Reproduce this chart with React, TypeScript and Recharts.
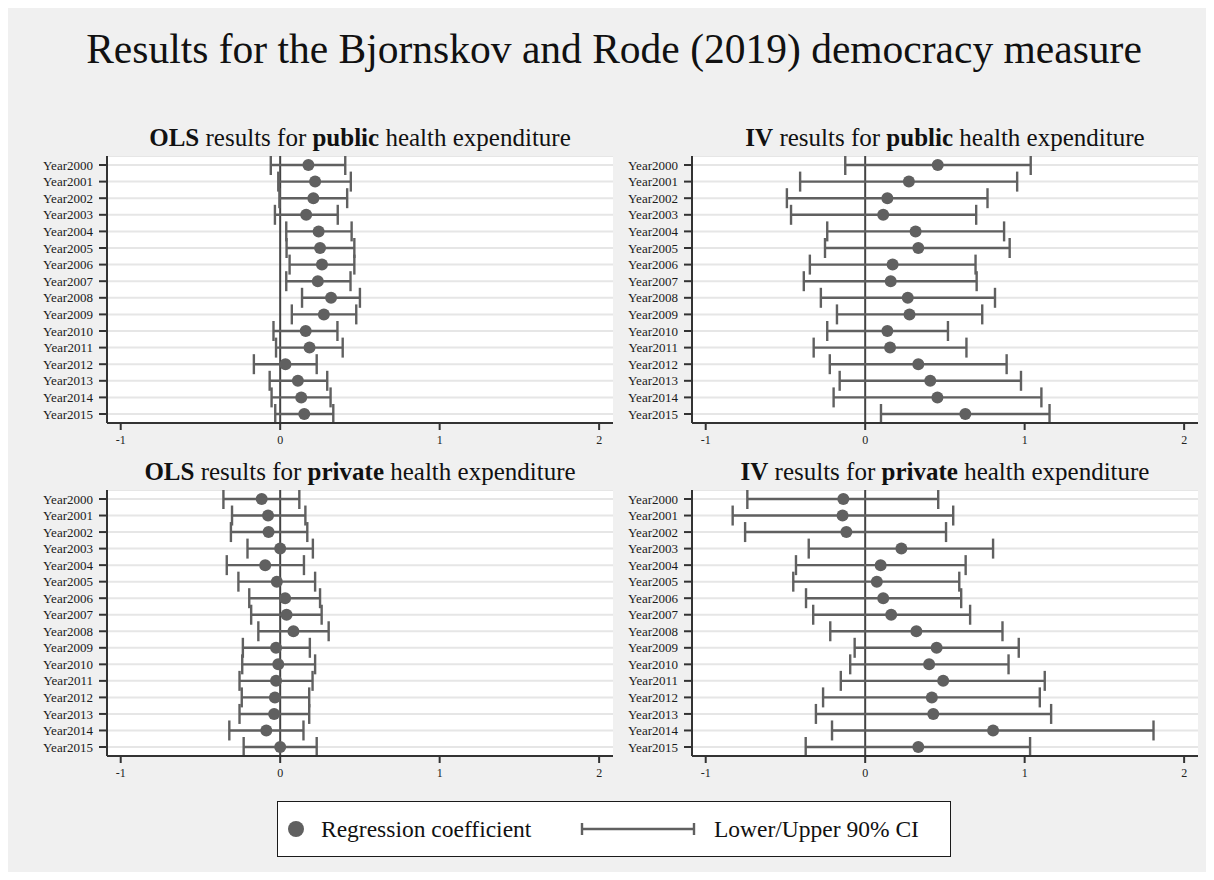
import {
  ComposedChart,
  Line,
  ErrorBar,
  XAxis,
  YAxis,
  CartesianGrid,
  ReferenceLine,
} from "recharts";

const years = [
  "Year2000", "Year2001", "Year2002", "Year2003", "Year2004", "Year2005",
  "Year2006", "Year2007", "Year2008", "Year2009", "Year2010", "Year2011",
  "Year2012", "Year2013", "Year2014", "Year2015",
];

const xTicks = [-1, 0, 1, 2];

// OLS, public health expenditure
const olsPublicCoef = [0.177, 0.219, 0.208, 0.163, 0.241, 0.25, 0.262, 0.236, 0.319, 0.274, 0.16, 0.184, 0.033, 0.111, 0.132, 0.151];
const olsPublicLo = [-0.059, -0.012, -0.005, -0.033, 0.038, 0.04, 0.059, 0.038, 0.137, 0.073, -0.042, -0.026, -0.165, -0.066, -0.054, -0.031];
const olsPublicHi = [0.408, 0.443, 0.42, 0.361, 0.448, 0.465, 0.465, 0.441, 0.5, 0.477, 0.359, 0.392, 0.229, 0.295, 0.316, 0.333];

// IV, public health expenditure
const ivPublicCoef = [0.455, 0.274, 0.139, 0.113, 0.316, 0.333, 0.172, 0.16, 0.267, 0.278, 0.139, 0.156, 0.333, 0.408, 0.453, 0.628];
const ivPublicLo = [-0.125, -0.408, -0.491, -0.465, -0.238, -0.252, -0.347, -0.385, -0.278, -0.177, -0.238, -0.323, -0.222, -0.16, -0.198, 0.099];
const ivPublicHi = [1.038, 0.953, 0.767, 0.696, 0.871, 0.906, 0.692, 0.699, 0.814, 0.734, 0.519, 0.635, 0.887, 0.977, 1.105, 1.156];

// OLS, private health expenditure
const olsPrivateCoef = [-0.116, -0.076, -0.073, 0.0, -0.094, -0.021, 0.031, 0.04, 0.083, -0.026, -0.012, -0.026, -0.033, -0.038, -0.087, 0.0];
const olsPrivateLo = [-0.356, -0.302, -0.309, -0.205, -0.335, -0.262, -0.194, -0.182, -0.137, -0.234, -0.238, -0.255, -0.241, -0.255, -0.319, -0.229];
const olsPrivateHi = [0.12, 0.158, 0.17, 0.205, 0.149, 0.219, 0.25, 0.26, 0.304, 0.186, 0.219, 0.203, 0.182, 0.182, 0.146, 0.229];

// IV, private health expenditure
const ivPrivateCoef = [-0.137, -0.142, -0.118, 0.227, 0.097, 0.073, 0.113, 0.163, 0.321, 0.448, 0.401, 0.489, 0.418, 0.427, 0.802, 0.333];
const ivPrivateLo = [-0.739, -0.831, -0.753, -0.354, -0.434, -0.451, -0.371, -0.326, -0.219, -0.066, -0.094, -0.153, -0.264, -0.309, -0.208, -0.373];
const ivPrivateHi = [0.458, 0.552, 0.507, 0.802, 0.63, 0.59, 0.602, 0.658, 0.861, 0.963, 0.899, 1.126, 1.095, 1.166, 1.808, 1.034];

const FONT = "'Liberation Serif', 'DejaVu Serif', serif";
const MARK = "#606060";
const AXIS = "#333333";

type Row = { year: string; coef: number; err: [number, number] };

function buildRows(coef: number[], lo: number[], hi: number[]): Row[] {
  return years.map((year, i) => ({
    year,
    coef: coef[i],
    err: [coef[i] - lo[i], hi[i] - coef[i]],
  }));
}

type PanelProps = {
  rows: Row[];
  left: number;
  top: number;
  plotH: number;
  method: string;
  kind: string;
};

const Y_W = 70;
const PLOT_W = 506;
const X_H = 32;

function Panel({ rows, left, top, plotH, method, kind }: PanelProps) {
  return (
    <>
      <div
        style={{
          position: "absolute",
          left: left + Y_W - 20,
          top: top - 31.5,
          width: PLOT_W + 40,
          textAlign: "center",
          fontFamily: FONT,
          fontSize: 25,
          lineHeight: "25px",
          color: "#111",
          whiteSpace: "nowrap",
        }}
      >
        <b>{method}</b> results for <b>{kind}</b> health expenditure
      </div>
      <div style={{ position: "absolute", left, top }}>
        <ComposedChart
          layout="vertical"
          width={Y_W + PLOT_W}
          height={plotH + X_H}
          data={rows}
          margin={{ top: 0, right: 0, bottom: 0, left: 0 }}
        >
          <CartesianGrid
            vertical={false}
            stroke="#e6e6e6"
            strokeWidth={2}
            fill="#ffffff"
            fillOpacity={1}
          />
          <XAxis
            type="number"
            domain={[-1.086, 2.087]}
            ticks={xTicks}
            allowDataOverflow
            height={X_H}
            tickSize={7}
            tickMargin={5}
            tick={{ fontSize: 12, fill: "#222", fontFamily: FONT }}
            axisLine={{ stroke: AXIS, strokeWidth: 2 }}
            tickLine={{ stroke: AXIS, strokeWidth: 2 }}
          />
          <YAxis
            type="category"
            dataKey="year"
            width={Y_W}
            interval={0}
            padding={{ top: 9, bottom: 9 }}
            tickSize={8}
            tickMargin={6}
            tick={{ fontSize: 13, fill: "#1a1a1a", fontFamily: FONT }}
            axisLine={{ stroke: AXIS, strokeWidth: 2 }}
            tickLine={{ stroke: AXIS, strokeWidth: 2 }}
          />
          <ReferenceLine x={0} stroke="#444" strokeWidth={2} />
          <Line
            dataKey="coef"
            stroke="none"
            isAnimationActive={false}
            dot={{ r: 6, fill: MARK, stroke: "none" }}
            activeDot={false}
          >
            <ErrorBar
              dataKey="err"
              direction="x"
              width={10}
              stroke={MARK}
              strokeWidth={2.4}
              isAnimationActive={false}
            />
          </Line>
        </ComposedChart>
      </div>
    </>
  );
}

export default function App() {
  return (
    <div
      style={{
        position: "relative",
        width: 1206,
        height: 872,
        marginBottom: -8,
        background: "#f0f0f0",
        overflow: "hidden",
      }}
    >
      <div
        style={{
          position: "absolute",
          left: 606,
          top: 21,
          transform: "translateX(-50%)",
          whiteSpace: "nowrap",
          fontFamily: FONT,
          fontSize: 41.5,
          lineHeight: "41.5px",
          color: "#111",
        }}
      >
        Results for the Bjornskov and Rode (2019) democracy measure
      </div>

      <Panel rows={buildRows(olsPublicCoef, olsPublicLo, olsPublicHi)} left={29} top={148} plotH={267} method="OLS" kind="public" />
      <Panel rows={buildRows(ivPublicCoef, ivPublicLo, ivPublicHi)} left={614} top={148} plotH={267} method="IV" kind="public" />
      <Panel rows={buildRows(olsPrivateCoef, olsPrivateLo, olsPrivateHi)} left={29} top={482} plotH={266} method="OLS" kind="private" />
      <Panel rows={buildRows(ivPrivateCoef, ivPrivateLo, ivPrivateHi)} left={614} top={482} plotH={266} method="IV" kind="private" />

      <div
        style={{
          position: "absolute",
          left: 269,
          top: 793,
          width: 674,
          height: 56,
          boxSizing: "border-box",
          border: "1.5px solid #1a1a1a",
          background: "#ffffff",
        }}
      >
        <svg width={671} height={53} style={{ display: "block" }}>
          <circle cx={18} cy={27} r={8} fill={MARK} />
          <text x={43} y={35} fontFamily={FONT} fontSize={23.5} fill="#111">
            Regression coefficient
          </text>
          <line x1={303} x2={417} y1={27} y2={27} stroke={MARK} strokeWidth={2.4} />
          <line x1={304} x2={304} y1={21} y2={33} stroke={MARK} strokeWidth={2.4} />
          <line x1={416} x2={416} y1={21} y2={33} stroke={MARK} strokeWidth={2.4} />
          <text x={436} y={35} fontFamily={FONT} fontSize={23.5} fill="#111">
            Lower/Upper 90% CI
          </text>
        </svg>
      </div>
    </div>
  );
}
